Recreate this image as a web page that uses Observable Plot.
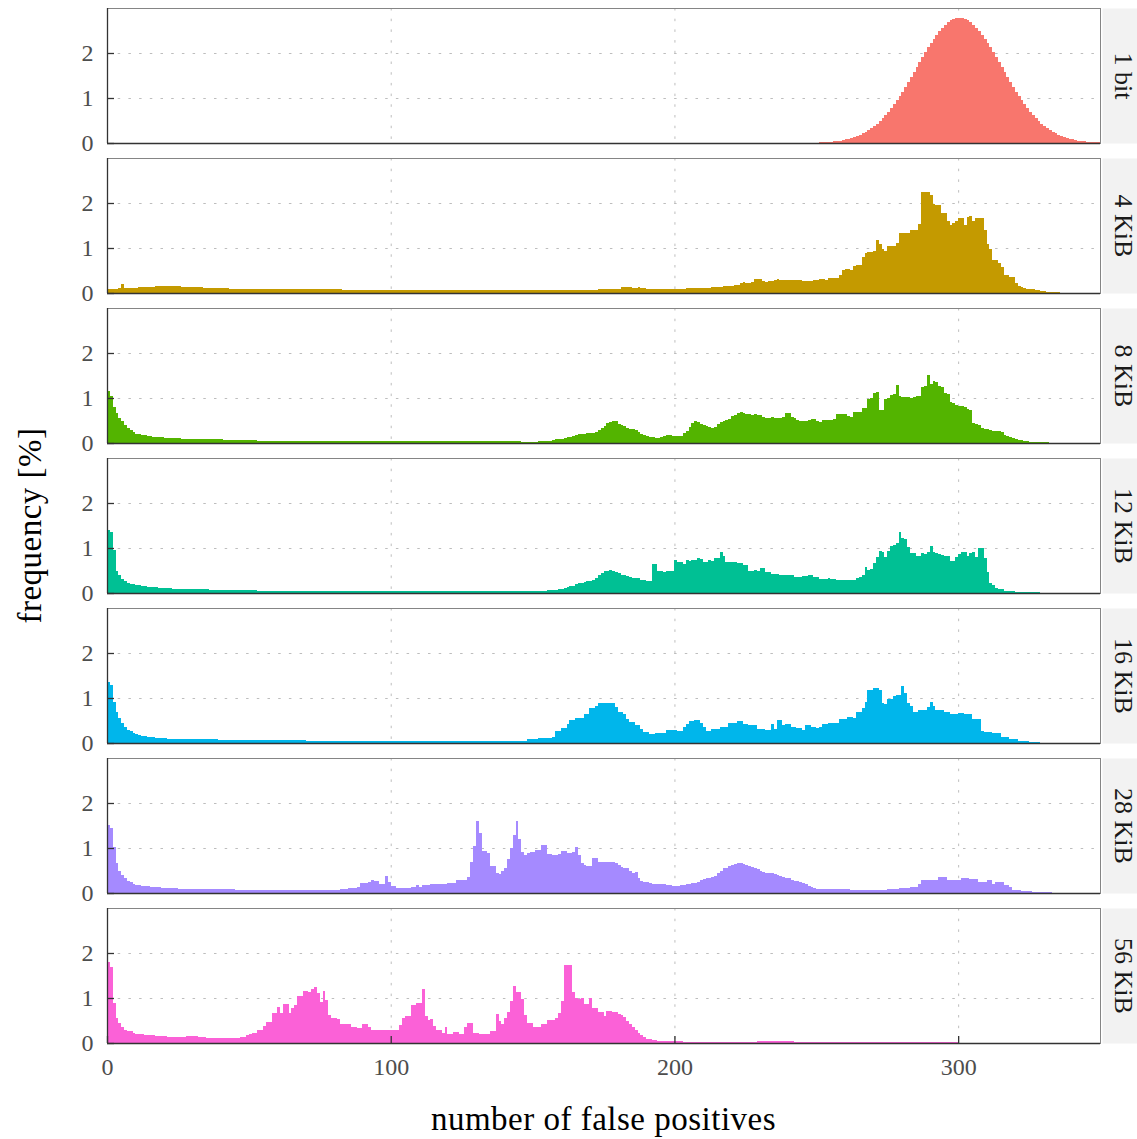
<!DOCTYPE html>
<html>
<head>
<meta charset="utf-8">
<script src="https://cdn.jsdelivr.net/npm/d3@7"></script>
<script src="https://cdn.jsdelivr.net/npm/@observablehq/plot@0.6"></script>
<style>
  html, body { margin: 0; padding: 0; background: #ffffff; }
  #chart svg { display: block; }
</style>
</head>
<body>
<div id="chart"></div>
<script>
// ---- categories / tick labels ----
const panels = ["1 bit", "4 KiB", "8 KiB", "12 KiB", "16 KiB", "28 KiB", "56 KiB"];
const panelColors = ["#F8766D", "#C49A00", "#53B400", "#00C094", "#00B6EB", "#A58AFF", "#FB61D7"];
const xTicks = [0, 100, 200, 300];
const yTicks = [0, 1, 2];
const xTitle = "number of false positives";
const yTitle = "frequency [%]";

// ---- series values: frequency [%] for 0,1,2,...,349 false positives ----
const bit1 = [
0,0,0,0,0,0,0,0,0,0, 0,0,0,0,0,0,0,0,0,0, 0,0,0,0,0,0,0,0,0,0, 0,0,0,0,0,0,0,0,0,0, 0,0,0,0,0,0,0,0,0,0,
0,0,0,0,0,0,0,0,0,0, 0,0,0,0,0,0,0,0,0,0, 0,0,0,0,0,0,0,0,0,0, 0,0,0,0,0,0,0,0,0,0, 0,0,0,0,0,0,0,0,0,0,
0,0,0,0,0,0,0,0,0,0, 0,0,0,0,0,0,0,0,0,0, 0,0,0,0,0,0,0,0,0,0, 0,0,0,0,0,0,0,0,0,0, 0,0,0,0,0,0,0,0,0,0,
0,0,0,0,0,0,0,0,0,0, 0,0,0,0,0,0,0,0,0,0, 0,0,0,0,0,0,0,0,0,0, 0,0,0,0,0,0,0,0,0,0, 0,0,0,0,0,0,0,0,0,0,
0,0,0,0,0,0,0,0,0,0, 0,0,0,0,0,0,0,0,0,0, 0,0,0,0,0,0,0,0,0,0, 0,0,0,0,0,0,0,0,0,0, 0,0,0,0,0,0,0,0,0,0,
.011,.013,.017,.020,.025,.031,.038,.046,.055,.066,
.079,.095,.112,.133,.156,.183,.213,.247,.286,.328,
.376,.429,.487,.550,.619,.693,.773,.858,.948,1.043,
1.143,1.246,1.353,1.463,1.574,1.686,1.798,1.910,2.019,2.125,
2.226,2.322,2.410,2.493,2.566,2.630,2.683,2.725,2.755,2.774,
2.780,2.774,2.755,2.725,2.683,2.630,2.566,2.493,2.410,2.322,
2.226,2.125,2.019,1.910,1.798,1.686,1.574,1.463,1.353,1.246,
1.143,1.043,.948,.858,.773,.693,.619,.550,.487,.429,
.376,.328,.286,.247,.213,.183,.156,.133,.112,.095,
.079,.066,.055,.046,.038,.031,.025,.020,.017,.013
];

const kib4 = [
.10,.10,.10,.10,.11,.21,.11,.11,.12,.12,
.12,.13,.13,.13,.14,.14,.14,.15,.15,.15,
.15,.16,.16,.15,.15,.15,.14,.14,.14,.14,
.13,.13,.13,.13,.12,.12,.12,.12,.11,.11,
.11,.11,.11,.10,.10,.10,.10,.10,.10,.10,
.09,.09,.09,.09,.09,.09,.09,.09,.09,.09,
.09,.09,.08,.08,.08,.08,.08,.08,.08,.08,
.08,.08,.08,.08,.08,.08,.08,.08,.08,.08,
.08,.08,.08,.07,.07,.07,.07,.07,.07,.07,
.07,.07,.07,.07,.07,.07,.07,.07,.07,.07,
.07,.07,.07,.07,.07,.07,.07,.07,.07,.07,
.07,.07,.07,.07,.07,.07,.07,.07,.07,.07,
.07,.07,.07,.06,.06,.06,.06,.06,.06,.06,
.06,.06,.06,.06,.06,.06,.06,.06,.06,.06,
.06,.06,.06,.06,.06,.06,.06,.06,.06,.06,
.06,.06,.06,.06,.06,.06,.06,.06,.06,.06,
.06,.06,.06,.06,.07,.07,.07,.07,.07,.07,
.07,.07,.07,.08,.08,.08,.08,.08,.09,.09,
.10,.13,.14,.14,.13,.11,.11,.13,.12,.11,
.10,.10,.10,.10,.10,.10,.10,.10,.10,.10,
.10,.10,.10,.10,.12,.12,.12,.12,.12,.12,
.12,.12,.12,.14,.14,.14,.14,.15,.15,.16,
.16,.17,.17,.23,.24,.23,.23,.24,.32,.32,
.31,.26,.25,.26,.27,.30,.31,.30,.30,.29,
.29,.30,.29,.28,.28,.27,.26,.26,.27,.28,
.29,.31,.31,.30,.33,.34,.34,.33,.41,.52,
.53,.53,.52,.60,.62,.63,.80,.90,.91,.92,
.94,1.18,1.10,.97,.93,1.04,1.04,1.04,1.12,1.33,
1.33,1.33,1.33,1.39,1.39,1.39,1.53,2.24,2.24,2.24,
2.18,1.97,1.96,1.95,1.77,1.77,1.59,1.51,1.56,1.59,
1.66,1.66,1.51,1.68,1.71,1.59,1.66,1.66,1.66,1.41,
1.09,.97,.73,.73,.66,.57,.41,.41,.36,.36,
.23,.16,.14,.12,.10,.09,.08,.07,.06,.05,
.04,.03,.03,.02,.02,.02,.01,.01,.01,.01,
.01,.01,.01,.01,.01,.01,.01,.01,.01,.01
];

const kib8 = [
1.16,1.05,.79,.66,.55,.50,.40,.33,.28,.24,
.21,.19,.18,.17,.16,.15,.14,.14,.13,.13,
.12,.12,.12,.11,.11,.11,.10,.10,.10,.09,
.09,.09,.09,.09,.09,.08,.08,.08,.08,.08,
.08,.07,.07,.07,.07,.07,.07,.07,.06,.06,
.06,.06,.06,.05,.05,.05,.05,.05,.05,.05,
.05,.05,.05,.05,.05,.05,.05,.05,.05,.05,
.05,.05,.05,.05,.05,.05,.05,.05,.04,.04,
.04,.04,.04,.04,.04,.04,.04,.04,.04,.04,
.04,.04,.04,.04,.04,.04,.04,.04,.04,.04,
.04,.04,.04,.04,.04,.04,.04,.04,.04,.04,
.04,.04,.04,.04,.04,.04,.04,.04,.04,.04,
.04,.04,.04,.04,.04,.04,.04,.04,.04,.04,
.04,.04,.04,.04,.04,.04,.04,.04,.04,.04,
.04,.04,.04,.04,.04,.04,.03,.03,.03,.03,
.03,.03,.04,.05,.05,.05,.05,.07,.08,.09,
.10,.12,.13,.14,.16,.18,.19,.20,.21,.22,
.22,.23,.24,.30,.34,.38,.44,.47,.50,.48,
.43,.41,.38,.34,.32,.31,.29,.24,.20,.18,
.15,.13,.13,.12,.12,.13,.15,.17,.17,.16,
.15,.15,.16,.22,.26,.36,.45,.50,.47,.43,
.41,.38,.35,.34,.36,.43,.47,.49,.51,.54,
.60,.63,.66,.69,.66,.65,.64,.63,.64,.63,
.62,.58,.56,.56,.57,.56,.56,.55,.58,.67,
.66,.57,.55,.52,.50,.49,.48,.52,.54,.53,
.48,.47,.51,.52,.52,.51,.53,.64,.65,.65,
.64,.59,.58,.68,.69,.70,.77,.78,.97,.99,
1.12,1.14,.74,.74,.98,.99,1.06,1.08,1.29,1.04,
1.03,1.02,1.02,1.01,1.03,1.05,1.05,1.24,1.27,1.52,
1.32,1.37,1.36,1.27,1.25,1.12,1.08,.92,.88,.84,
.82,.82,.81,.76,.74,.45,.42,.40,.33,.32,
.31,.30,.27,.26,.26,.24,.17,.15,.13,.11,
.08,.07,.06,.05,.04,.03,.03,.03,.02,.02,
.02,.02,.01,.01,.01,.01,.01,.01,.01,.01,
.01,.01,.01,0,0,0,0,0,0,0
];

const kib12 = [
1.40,1.35,.96,.50,.40,.32,.26,.23,.21,.19,
.18,.17,.16,.15,.14,.14,.13,.13,.12,.12,
.11,.11,.11,.10,.09,.09,.09,.09,.09,.08,
.08,.08,.08,.08,.08,.08,.07,.07,.07,.07,
.07,.07,.07,.07,.06,.06,.06,.06,.06,.06,
.06,.06,.06,.05,.05,.05,.05,.05,.05,.05,
.05,.05,.05,.05,.05,.05,.05,.05,.05,.05,
.05,.05,.05,.05,.05,.05,.05,.05,.05,.05,
.05,.05,.05,.05,.05,.05,.05,.05,.05,.05,
.05,.05,.05,.05,.05,.05,.05,.05,.05,.05,
.04,.04,.04,.04,.04,.04,.04,.04,.04,.04,
.04,.04,.04,.04,.04,.04,.04,.04,.04,.04,
.04,.04,.04,.04,.04,.04,.04,.04,.04,.04,
.04,.04,.04,.04,.04,.04,.04,.04,.04,.04,
.04,.04,.04,.04,.04,.04,.04,.04,.04,.04,
.04,.05,.05,.05,.05,.06,.07,.07,.07,.08,
.10,.11,.13,.15,.16,.19,.22,.23,.25,.26,
.27,.30,.33,.40,.44,.49,.50,.51,.50,.47,
.44,.40,.39,.38,.35,.34,.34,.33,.29,.28,
.27,.26,.65,.64,.50,.48,.47,.48,.50,.50,
.73,.69,.68,.64,.73,.72,.74,.73,.77,.76,
.69,.68,.73,.72,.77,.78,.92,.82,.69,.68,
.69,.68,.67,.67,.62,.62,.50,.50,.51,.50,
.56,.55,.47,.46,.43,.43,.42,.41,.41,.41,
.40,.39,.35,.35,.36,.37,.37,.39,.39,.35,
.35,.32,.32,.32,.33,.32,.31,.29,.28,.28,
.29,.29,.29,.30,.34,.35,.41,.58,.52,.53,
.67,.79,.93,.92,.79,.93,1.05,1.06,1.12,1.35,
1.22,1.21,1.03,.89,.88,.82,.83,.88,.87,.92,
1.05,.92,.88,.86,.85,.82,.82,.71,.72,.79,
.86,.92,.91,.82,.89,.92,.79,1.00,1.00,.77,
.47,.22,.17,.11,.10,.08,.05,.05,.05,.04,
.03,.03,.03,.03,.03,.02,.02,.02,.02,.01,
.01,.01,.01,.01,.01,.01,.01,.01,.01,.01,
.01,.01,.01,.01,.01,.01,.01,.01,.01,.01
];

const kib16 = [
1.36,1.30,.92,.70,.55,.45,.36,.30,.26,.22,
.19,.17,.16,.15,.14,.13,.13,.12,.12,.11,
.11,.10,.10,.10,.10,.09,.09,.09,.09,.09,
.09,.09,.08,.08,.08,.08,.08,.08,.08,.07,
.07,.07,.07,.07,.07,.06,.06,.06,.06,.06,
.06,.06,.06,.06,.06,.06,.06,.06,.06,.06,
.06,.06,.06,.06,.06,.06,.06,.06,.06,.06,
.05,.05,.05,.05,.05,.05,.05,.05,.05,.05,
.05,.05,.05,.05,.05,.05,.05,.05,.05,.05,
.05,.05,.05,.05,.05,.05,.05,.05,.05,.05,
.04,.04,.04,.04,.04,.04,.04,.04,.04,.04,
.04,.04,.04,.04,.04,.04,.04,.04,.04,.04,
.04,.04,.04,.04,.04,.04,.04,.04,.04,.04,
.04,.04,.04,.04,.04,.04,.04,.04,.04,.04,
.04,.04,.04,.04,.04,.05,.05,.05,.08,.08,
.08,.08,.11,.11,.11,.11,.11,.14,.26,.26,
.33,.33,.42,.52,.52,.56,.56,.56,.65,.65,
.78,.78,.82,.88,.88,.88,.88,.90,.90,.80,
.69,.69,.64,.54,.46,.46,.39,.39,.31,.25,
.25,.21,.21,.23,.23,.23,.23,.29,.29,.29,
.29,.27,.27,.35,.42,.50,.50,.52,.52,.44,
.36,.27,.27,.31,.31,.31,.36,.36,.36,.44,
.44,.44,.48,.48,.42,.42,.41,.41,.41,.31,
.31,.31,.29,.29,.42,.31,.52,.52,.39,.42,
.42,.35,.35,.33,.33,.29,.40,.40,.35,.35,
.33,.36,.42,.42,.45,.45,.45,.44,.54,.54,
.54,.58,.58,.56,.69,.69,.77,.92,1.17,1.17,
1.22,1.22,1.18,.89,.86,.97,.97,1.05,1.07,1.07,
1.26,1.12,.88,.82,.70,.70,.73,.73,.73,.80,
.92,.82,.73,.73,.73,.69,.69,.64,.64,.64,
.67,.67,.64,.65,.65,.54,.54,.54,.27,.25,
.25,.25,.22,.22,.22,.14,.14,.14,.08,.08,
.08,.04,.04,.04,.04,.02,.02,.02,.02,.01,
.01,.01,.01,.01,.01,.01,.01,.01,.01,.01,
.01,.01,.01,.01,.01,.01,.01,.01,.01,.01
];

const kib28 = [
1.51,1.45,1.03,.67,.49,.40,.33,.27,.24,.20,
.18,.18,.16,.16,.15,.13,.13,.13,.13,.12,
.11,.11,.11,.11,.11,.10,.10,.10,.10,.10,
.10,.10,.09,.08,.08,.08,.08,.08,.08,.08,
.08,.08,.08,.08,.08,.07,.07,.07,.07,.07,
.07,.07,.07,.07,.07,.07,.07,.07,.07,.07,
.07,.07,.07,.07,.07,.07,.07,.07,.06,.06,
.06,.06,.06,.06,.06,.06,.06,.06,.06,.06,
.06,.06,.09,.09,.09,.11,.11,.11,.14,.23,
.23,.23,.25,.30,.27,.27,.21,.21,.38,.25,
.16,.16,.12,.12,.12,.12,.12,.13,.13,.18,
.13,.18,.18,.18,.20,.20,.20,.20,.20,.20,
.23,.23,.23,.30,.30,.29,.29,.35,.70,1.04,
1.61,1.33,.93,.93,.90,.60,.60,.45,.42,.50,
.55,.75,.99,1.30,1.61,1.19,.92,.84,.88,.92,
.92,.96,.96,1.07,1.07,.86,.86,.84,.84,.87,
.94,.94,.90,.90,.92,1.03,.84,.67,.62,.61,
.61,.77,.77,.70,.70,.70,.70,.70,.70,.67,
.62,.58,.55,.55,.50,.45,.47,.33,.27,.25,
.24,.22,.21,.20,.19,.19,.19,.18,.17,.16,
.16,.16,.17,.18,.20,.21,.22,.23,.24,.28,
.32,.34,.34,.35,.38,.44,.50,.55,.56,.60,
.62,.64,.66,.66,.64,.62,.59,.57,.55,.53,
.50,.47,.45,.44,.44,.43,.39,.38,.35,.33,
.33,.28,.27,.26,.24,.23,.19,.16,.14,.11,
.10,.10,.10,.09,.09,.09,.08,.08,.08,.08,
.08,.08,.07,.07,.07,.07,.07,.07,.07,.07,
.07,.07,.07,.07,.07,.09,.09,.09,.09,.12,
.12,.12,.12,.14,.14,.14,.19,.30,.30,.29,
.29,.29,.29,.36,.36,.36,.29,.30,.30,.30,
.30,.33,.33,.33,.31,.31,.31,.25,.25,.25,
.30,.30,.21,.24,.24,.24,.18,.18,.14,.07,
.07,.07,.04,.04,.04,.04,.02,.02,.02,.02,
.02,.02,.02,.01,.01,.01,.01,.01,.01,.01,
.01,.01,.01,.01,.01,.01,.01,.01,.01,.01
];

const kib56 = [
1.81,1.70,.90,.55,.44,.35,.29,.27,.27,.23,
.21,.21,.19,.18,.18,.18,.17,.16,.16,.16,
.15,.14,.13,.13,.13,.13,.13,.13,.15,.15,
.15,.15,.14,.13,.13,.12,.11,.11,.11,.11,
.11,.11,.11,.11,.11,.12,.12,.14,.14,.17,
.21,.23,.23,.29,.29,.38,.47,.47,.66,.66,
.81,.66,.87,.87,.67,.77,.84,1.04,1.04,1.16,
1.16,1.14,1.19,1.24,1.12,.92,1.16,.96,.62,.55,
.55,.53,.42,.42,.42,.42,.35,.35,.34,.34,
.42,.42,.36,.29,.29,.29,.29,.29,.29,.29,
.30,.30,.30,.40,.55,.60,.60,.84,.84,.90,
.88,1.21,.59,.51,.53,.38,.29,.29,.23,.35,
.21,.21,.24,.24,.20,.20,.36,.45,.45,.23,
.23,.19,.19,.19,.19,.27,.27,.64,.50,.42,
.55,.70,.94,1.27,1.14,1.14,.97,.62,.44,.44,
.36,.36,.36,.42,.42,.51,.51,.51,.55,.66,
.94,1.73,1.73,1.73,1.14,1.00,.97,.99,.87,.87,
1.01,.77,.77,.70,.70,.60,.71,.71,.70,.70,
.64,.62,.57,.50,.42,.35,.29,.22,.17,.13,
.10,.08,.07,.06,.05,.05,.04,.04,.04,.04,
.04,.04,.04,.03,.03,.03,.03,.03,.03,.03,
.03,.03,.03,.03,.03,.03,.03,.03,.03,.03,
.03,.03,.03,.03,.03,.03,.03,.03,.03,.04,
.04,.04,.05,.05,.05,.05,.05,.04,.04,.04,
.04,.04,.03,.03,.03,.03,.03,.03,.02,.02,
.02,.02,.02,.02,.02,.02,.02,.02,.02,.02,
.02,.02,.02,.02,.02,.02,.02,.02,.02,.02,
.02,.02,.02,.02,.02,.02,.02,.02,.02,.02,
.02,.02,.02,.02,.02,.02,.02,.02,.02,.02,
.02,.02,.02,.02,.02,.02,.02,.02,.02,.02,
.01,.01,.01,.01,.01,.01,.01,.01,.01,.01,
.01,.01,.01,.01,.01,.01,.01,.01,.01,.01,
.01,.01,.01,.01,.01,.01,.01,.01,.01,.01,
.01,.01,.01,.01,.01,.01,.01,.01,.01,.01,
.01,.01,.01,.01,.01,.01,.01,.01,.01,.01
];

const series = [bit1, kib4, kib8, kib12, kib16, kib28, kib56];
series.forEach((s, k) => { if (s.length !== 350) throw new Error(panels[k] + " has " + s.length + " values"); });

// ---- table for the library ----
const bins = panels.flatMap((p, k) => series[k].map((v, i) => ({panel: p, x: i, v})));
const bottomTicks = xTicks.map(t => ({panel: panels[panels.length - 1], tick: t}));
const facetData = bins.concat(bottomTicks);

const W = 1137, H = 1139;
const mL = 107, mR = 37, mT = 8, mB = 96;
const font = "'Liberation Serif', 'Times New Roman', serif";

const chart = Plot.plot({
  width: W,
  height: H,
  marginLeft: mL,
  marginRight: mR,
  marginTop: mT,
  marginBottom: mB,
  style: {fontFamily: font, fontSize: "24px", color: "#4d4d4d", background: "#ffffff", overflow: "visible"},
  facet: {data: facetData, y: "panel"},
  fy: {domain: panels, axis: null, paddingInner: 0.1, paddingOuter: 0, label: null},
  x: {domain: [0, 350], ticks: xTicks, tickFormat: d => String(d), tickSize: 0, tickPadding: 14, label: null},
  y: {domain: [0, 3], ticks: yTicks, tickFormat: d => String(d), tickSize: 0, tickPadding: 14, label: null},
  color: {domain: panels, range: panelColors},
  marks: [
    // dotted grid
    Plot.ruleY(yTicks, {stroke: "#bdbdbd", strokeWidth: 1, strokeDasharray: "2.5,8.2"}),
    Plot.ruleX(xTicks, {stroke: "#bdbdbd", strokeWidth: 1, strokeDasharray: "2.5,8.2"}),
    // histogram bars
    Plot.rectY(facetData, {
      filter: d => d.v !== undefined,
      x1: "x",
      x2: d => d.x + 1,
      y: "v",
      fill: "panel",
      shapeRendering: "crispEdges"
    }),
    // panel border
    Plot.frame({stroke: "#858585", strokeWidth: 1}),
    Plot.ruleX([0], {stroke: "#333333", strokeWidth: 1.3}),
    Plot.ruleY([0], {stroke: "#333333", strokeWidth: 1.3}),
    // inward tick marks
    Plot.tickY(yTicks, {y: d => d, stroke: "#333333", strokeWidth: 1.3, insetRight: 986}),
    Plot.tickX(facetData, {filter: d => d.tick !== undefined, x: "tick", stroke: "#333333", strokeWidth: 1.3, insetTop: 128}),
    // facet strips on the right
    Plot.frame({fill: "#f2f2f2", stroke: "none", insetLeft: 995, insetRight: -37}),
    Plot.text(facetData, {
      filter: d => d.x === 0,
      text: "panel",
      frameAnchor: "right",
      dx: 23,
      rotate: 90,
      textAnchor: "middle",
      lineAnchor: "middle",
      fill: "#1a1a1a",
      fontSize: 26
    })
  ]
});

// axis titles
const svg = d3.select(chart);
svg.append("text")
  .attr("x", mL + (W - mL - mR) / 2)
  .attr("y", H - 9)
  .attr("text-anchor", "middle")
  .attr("fill", "#000000")
  .style("font-family", font)
  .style("font-size", "33px")
  .style("letter-spacing", "0.5px")
  .text(xTitle);
svg.append("text")
  .attr("transform", `translate(29, ${mT + (H - mT - mB) / 2}) rotate(-90)`)
  .attr("text-anchor", "middle")
  .attr("dy", "0.35em")
  .attr("fill", "#000000")
  .style("font-family", font)
  .style("font-size", "33px")
  .style("letter-spacing", "0.5px")
  .text(yTitle);

document.getElementById("chart").appendChild(chart);
</script>
</body>
</html>
